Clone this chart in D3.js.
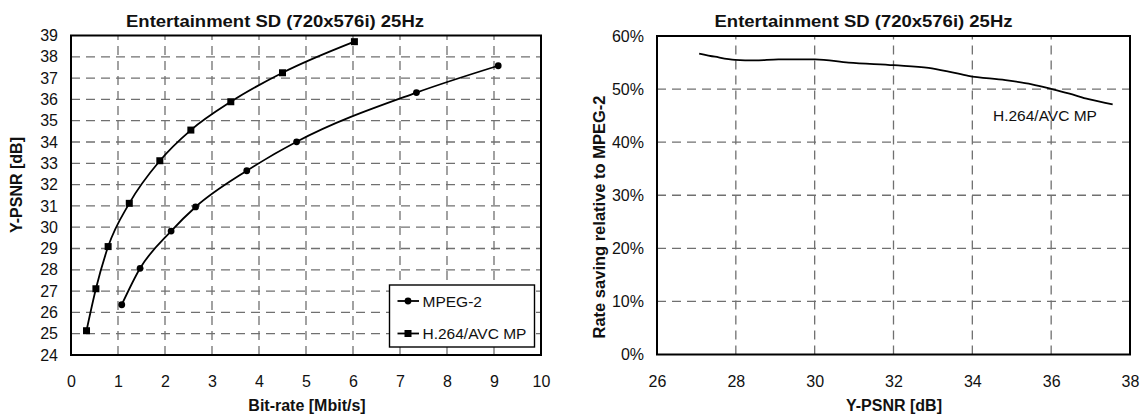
<!DOCTYPE html>
<html><head><meta charset="utf-8">
<script src="https://cdn.jsdelivr.net/npm/d3@7"></script>
<style>body{margin:0;background:#fff}svg{display:block}text{font-family:"Liberation Sans",Arial,sans-serif;fill:#111}</style>
</head><body><svg id="c" width="1145" height="416"></svg>
<script>
// Left chart data
const mpeg2Rate = [1.08, 1.47, 2.13, 2.65, 3.74, 4.80, 7.35, 9.09];
const mpeg2Psnr = [26.36, 28.07, 29.82, 30.95, 32.65, 34.01, 36.32, 37.58];
const h264Rate = [0.33, 0.53, 0.79, 1.24, 1.89, 2.55, 3.40, 4.50, 6.03];
const h264Psnr = [25.14, 27.11, 29.09, 31.12, 33.12, 34.56, 35.89, 37.25, 38.71];
const leftXTicks = [0,1,2,3,4,5,6,7,8,9,10];
const leftYTicks = [24,25,26,27,28,29,30,31,32,33,34,35,36,37,38,39];
// Right chart data
const savingPsnr = [27.07, 27.47, 27.98, 28.49, 29.08, 30.01, 30.86, 32.01, 32.89, 33.40, 33.90, 34.84, 35.51, 36.02, 36.44, 36.95, 37.56];
const savingPct = [56.7, 56.1, 55.5, 55.4, 55.6, 55.6, 55.0, 54.5, 54.0, 53.3, 52.5, 51.7, 50.9, 50.0, 49.2, 48.1, 47.1];
const rightXTicks = [26,28,30,32,34,36,38];
const rightYTicks = [0,10,20,30,40,50,60];
const titleText = "Entertainment SD (720x576i) 25Hz";
const seriesNames = ["MPEG-2", "H.264/AVC MP"];

const svg = d3.select("#c");
const gridStyle = s => s.attr("stroke","#707070").attr("stroke-width",1.3).attr("stroke-dasharray","9,6");

function frame(g, x, y, xt, yt, yfmt) {
  const [x0,x1] = x.range(), [y1,y0] = y.range();
  g.selectAll(".hg").data(yt.filter(v=>v!==y.domain()[0] && v!==y.domain()[1])).join("line").attr("class","hg")
    .attr("x1",x0).attr("x2",x1).attr("y1",d=>y(d)).attr("y2",d=>y(d)).call(gridStyle);
  g.selectAll(".vg").data(xt.filter(v=>v!==x.domain()[0] && v!==x.domain()[1])).join("line").attr("class","vg")
    .attr("y1",y1).attr("y2",y0).attr("x1",d=>x(d)).attr("x2",d=>x(d)).call(gridStyle);
  g.append("rect").attr("x",x0).attr("y",y0).attr("width",x1-x0).attr("height",y1-y0)
    .attr("fill","none").attr("stroke","#000").attr("stroke-width",2);
  const ax = g.append("g").attr("transform",`translate(0,${y1})`)
    .call(d3.axisBottom(x).tickValues(xt).tickSize(0).tickFormat(d3.format("d")));
  ax.select(".domain").remove();
  ax.selectAll("text").attr("y",32).attr("dy",null).attr("font-size",16).attr("font-family",null).attr("fill","#111");
  const ay = g.append("g").attr("transform",`translate(${x0},0)`)
    .call(d3.axisLeft(y).tickValues(yt).tickSize(0).tickPadding(13).tickFormat(yfmt||d3.format("d")));
  ay.select(".domain").remove();
  ay.selectAll("text").attr("font-size",16).attr("font-family",null).attr("fill","#111");
}

// LEFT
const xL = d3.scaleLinear().domain([0,10]).range([71,541]);
const yL = d3.scaleLinear().domain([24,39]).range([355,35.5]);
const gL = svg.append("g");
frame(gL, xL, yL, leftXTicks, leftYTicks, null);
gL.append("text").attr("x",275).attr("y",27).attr("text-anchor","middle").attr("font-size",16).attr("font-weight","bold")
  .attr("textLength",298).attr("lengthAdjust","spacingAndGlyphs").text(titleText);
gL.append("text").attr("x",307).attr("y",411).attr("text-anchor","middle").attr("font-size",16).attr("font-weight","bold").text("Bit-rate [Mbit/s]");
gL.append("text").attr("transform","translate(22,185) rotate(-90)").attr("text-anchor","middle").attr("font-size",16).attr("font-weight","bold").text("Y-PSNR [dB]");

const lineL = d3.line().x(d=>xL(d[0])).y(d=>yL(d[1])).curve(d3.curveMonotoneX);
const mp = mpeg2Rate.map((r,i)=>[r,mpeg2Psnr[i]]);
const hp = h264Rate.map((r,i)=>[r,h264Psnr[i]]);
gL.append("path").attr("d",lineL(mp)).attr("fill","none").attr("stroke","#000").attr("stroke-width",1.8);
gL.append("path").attr("d",lineL(hp)).attr("fill","none").attr("stroke","#000").attr("stroke-width",1.8);
gL.selectAll(".mc").data(mp).join("circle").attr("cx",d=>xL(d[0])).attr("cy",d=>yL(d[1])).attr("r",3.4).attr("fill","#000");
gL.selectAll(".hs").data(hp).join("rect").attr("x",d=>xL(d[0])-3.5).attr("y",d=>yL(d[1])-3.5).attr("width",7).attr("height",7).attr("fill","#000");

// legend
const lg = gL.append("g");
lg.append("rect").attr("x",389.5).attr("y",285).attr("width",145).attr("height",62).attr("fill","#fff").attr("stroke","#000").attr("stroke-width",1.4);
seriesNames.forEach((n,i)=>{
  const yy = 301 + i*32.5;
  lg.append("line").attr("x1",397.5).attr("x2",419).attr("y1",yy).attr("y2",yy).attr("stroke","#000").attr("stroke-width",1.8);
  if(i===0) lg.append("circle").attr("cx",408).attr("cy",yy).attr("r",3.4);
  else lg.append("rect").attr("x",404.5).attr("y",yy-3.5).attr("width",7).attr("height",7);
  lg.append("text").attr("x",422.5).attr("y",yy+5.5).attr("font-size",15.5).text(n);
});

// RIGHT
const xR = d3.scaleLinear().domain([26,38]).range([657,1130]);
const yR = d3.scaleLinear().domain([0,60]).range([354.5,36]);
const gR = svg.append("g");
frame(gR, xR, yR, rightXTicks, rightYTicks, d=>d+"%");
gR.append("text").attr("x",863.5).attr("y",27).attr("text-anchor","middle").attr("font-size",16).attr("font-weight","bold")
  .attr("textLength",298).attr("lengthAdjust","spacingAndGlyphs").text(titleText);
gR.append("text").attr("x",894).attr("y",411).attr("text-anchor","middle").attr("font-size",16).attr("font-weight","bold").text("Y-PSNR [dB]");
gR.append("text").attr("transform","translate(605,217) rotate(-90)").attr("text-anchor","middle").attr("font-size",16.5).attr("font-weight","bold").text("Rate saving relative to MPEG-2");
const lineR = d3.line().x(d=>xR(d[0])).y(d=>yR(d[1])).curve(d3.curveMonotoneX);
gR.append("path").attr("d",lineR(savingPsnr.map((p,i)=>[p,savingPct[i]]))).attr("fill","none").attr("stroke","#000").attr("stroke-width",1.8);
gR.append("text").attr("x",993).attr("y",121).attr("font-size",15.5).text(seriesNames[1]);
</script></body></html>
